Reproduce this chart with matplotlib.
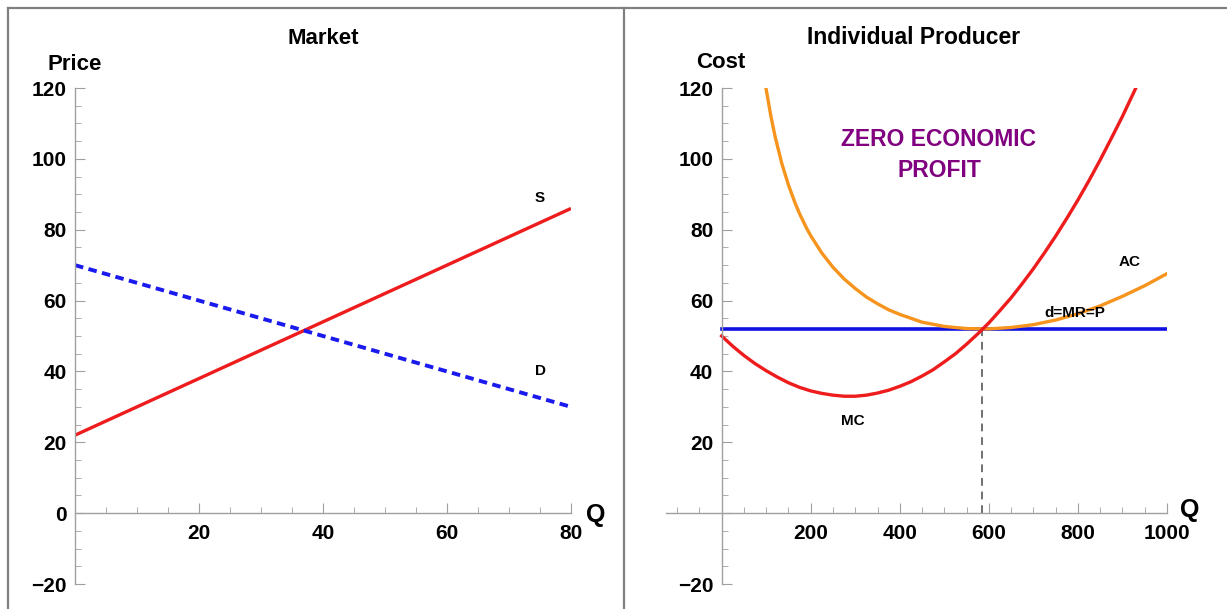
import matplotlib
matplotlib.use("Agg")
import matplotlib.pyplot as plt
from matplotlib.ticker import MultipleLocator
from matplotlib.lines import Line2D

plt.rcParams['font.family'] = ['Liberation Sans Narrow', 'Liberation Sans', 'DejaVu Sans']
plt.rcParams['font.weight'] = 'bold'

# market panel
q_market = [0, 80]
supply = [22, 86]
demand = [70, 30]

# individual producer panel
q_mc = [0, 25, 50, 75, 100, 125, 150, 175, 200, 225, 250, 275, 300, 325, 350,
        375, 400, 425, 450, 475, 500, 525, 550, 575, 600, 625, 650, 675, 700,
        725, 750, 775, 800, 825, 850, 875, 900, 930]
mc = [50.0, 47.1, 44.5, 42.2, 40.2, 38.4, 36.8, 35.5, 34.5, 33.8, 33.3, 33.0,
      33.0, 33.3, 33.9, 34.7, 35.8, 37.1, 38.7, 40.5, 42.7, 45.0, 47.7, 50.6,
      53.7, 57.2, 60.8, 64.8, 69.0, 73.5, 78.2, 83.2, 88.4, 93.9, 99.7, 105.8,
      112.0, 120.0]
q_ac = [100, 110, 120, 135, 150, 165, 175, 190, 200, 225, 250, 275, 300, 325,
        350, 375, 400, 450, 500, 550, 600, 650, 700, 750, 800, 850, 900, 950,
        1000]
ac = [119.6, 112.4, 106.3, 98.7, 92.6, 87.5, 84.5, 80.6, 78.3, 73.4, 69.4,
      66.1, 63.4, 61.0, 59.1, 57.4, 56.1, 53.9, 52.7, 52.1, 52.0, 52.4, 53.2,
      54.5, 56.3, 58.5, 61.2, 64.2, 67.6]
price = 52
q_star = 584
q_price = [0, 1000]

W, H = 1227, 609
fig = plt.figure(figsize=(W / 100, H / 100), dpi=100)

AXIS_GRAY = "#a0a0a0"


def style_axes(ax):
    ax.spines['left'].set_position(('data', 0))
    ax.spines['bottom'].set_position(('data', 0))
    ax.spines['top'].set_visible(False)
    ax.spines['right'].set_visible(False)
    for s in ('left', 'bottom'):
        ax.spines[s].set_color(AXIS_GRAY)
        ax.spines[s].set_linewidth(1.0)
    ax.tick_params(which='both', direction='in', color=AXIS_GRAY, labelsize=15)
    ax.tick_params(which='major', length=7)
    ax.tick_params(which='minor', length=4)
    ax.tick_params(axis='y', pad=6)
    ax.tick_params(axis='x', pad=8)
    ax.set_ylim(-20, 120)
    ax.yaxis.set_minor_locator(MultipleLocator(5))
    for lbl in ax.get_xticklabels() + ax.get_yticklabels():
        lbl.set_fontweight('bold')


# ---- left: Market
ax1 = fig.add_axes([75 / W, 25 / H, 496 / W, 496 / H])
ax1.set_xlim(0, 80)
ax1.plot(q_market, supply, color="#ee1c1c", lw=2.4, solid_capstyle='butt')
ax1.plot(q_market, demand, color="#1a1aee", lw=2.8, ls=(0, (2.2, 1.4)))
ax1.set_xticks([20, 40, 60, 80])
ax1.xaxis.set_minor_locator(MultipleLocator(5))
ax1.set_yticks([-20, 0, 20, 40, 60, 80, 100, 120],
               ["\u221220", "0", "20", "40", "60", "80", "100", "120"])
style_axes(ax1)
ax1.text(75, 89, "S", fontsize=11, fontweight='bold', ha='center', va='center')
ax1.text(75, 40, "D", fontsize=11, fontweight='bold', ha='center', va='center')
ax1.text(84, -0.5, "Q", fontsize=18, fontweight='bold', ha='center', va='center', clip_on=False)

# ---- right: Individual Producer
ax2 = fig.add_axes([666 / W, 25 / H, 501 / W, 496 / H])
ax2.set_xlim(-125, 1000)
ax2.plot([0, q_star], [price, price], color="#333333", lw=1.4, ls=(0, (4, 3)))
ax2.plot([q_star, q_star], [0, price], color="#707070", lw=1.4, ls=(0, (4, 3)))
ax2.plot(q_price, [price, price], color="#1010e0", lw=2.6)
ax2.plot(q_ac, ac, color="#f7941d", lw=2.4)
ax2.plot(q_mc, mc, color="#ee1c1c", lw=2.4)
ax2.set_xticks([200, 400, 600, 800, 1000])
ax2.xaxis.set_minor_locator(MultipleLocator(50))
ax2.set_yticks([-20, 0, 20, 40, 60, 80, 100, 120],
               ["\u221220", "", "20", "40", "60", "80", "100", "120"])
style_axes(ax2)
ax2.text(294, 26, "MC", fontsize=11, fontweight='bold', ha='center', va='center')
ax2.text(917, 71, "AC", fontsize=11, fontweight='bold', ha='center', va='center')
ax2.text(793, 56.5, "d=MR=P", fontsize=11, fontweight='bold', ha='center', va='center')
ax2.text(488, 101, "ZERO ECONOMIC\nPROFIT", fontsize=16.5, fontweight='bold',
         color="#800080", ha='center', va='center', linespacing=1.45)
ax2.text(1052, 0.8, "Q", fontsize=18, fontweight='bold', ha='center', va='center', clip_on=False)

# titles and axis names
fig.text(323 / W, 1 - 38 / H, "Market", fontsize=16, fontweight='bold', ha='center', va='center')
fig.text(914 / W, 1 - 37 / H, "Individual Producer", fontsize=16.5, fontweight='bold',
         ha='center', va='center')
fig.text(75 / W, 1 - 64 / H, "Price", fontsize=16, fontweight='bold', ha='center', va='center')
fig.text(721 / W, 1 - 62 / H, "Cost", fontsize=16, fontweight='bold', ha='center', va='center')

# panel frames
frame = dict(color="#808080", lw=1.6, transform=fig.transFigure)
fig.add_artist(Line2D([8 / W, 1], [1 - 8 / H, 1 - 8 / H], **frame))
fig.add_artist(Line2D([8 / W, 8 / W], [0, 1 - 8 / H], **frame))
fig.add_artist(Line2D([624 / W, 624 / W], [0, 1 - 8 / H], **frame))

fig.savefig("out.png", dpi=100)
